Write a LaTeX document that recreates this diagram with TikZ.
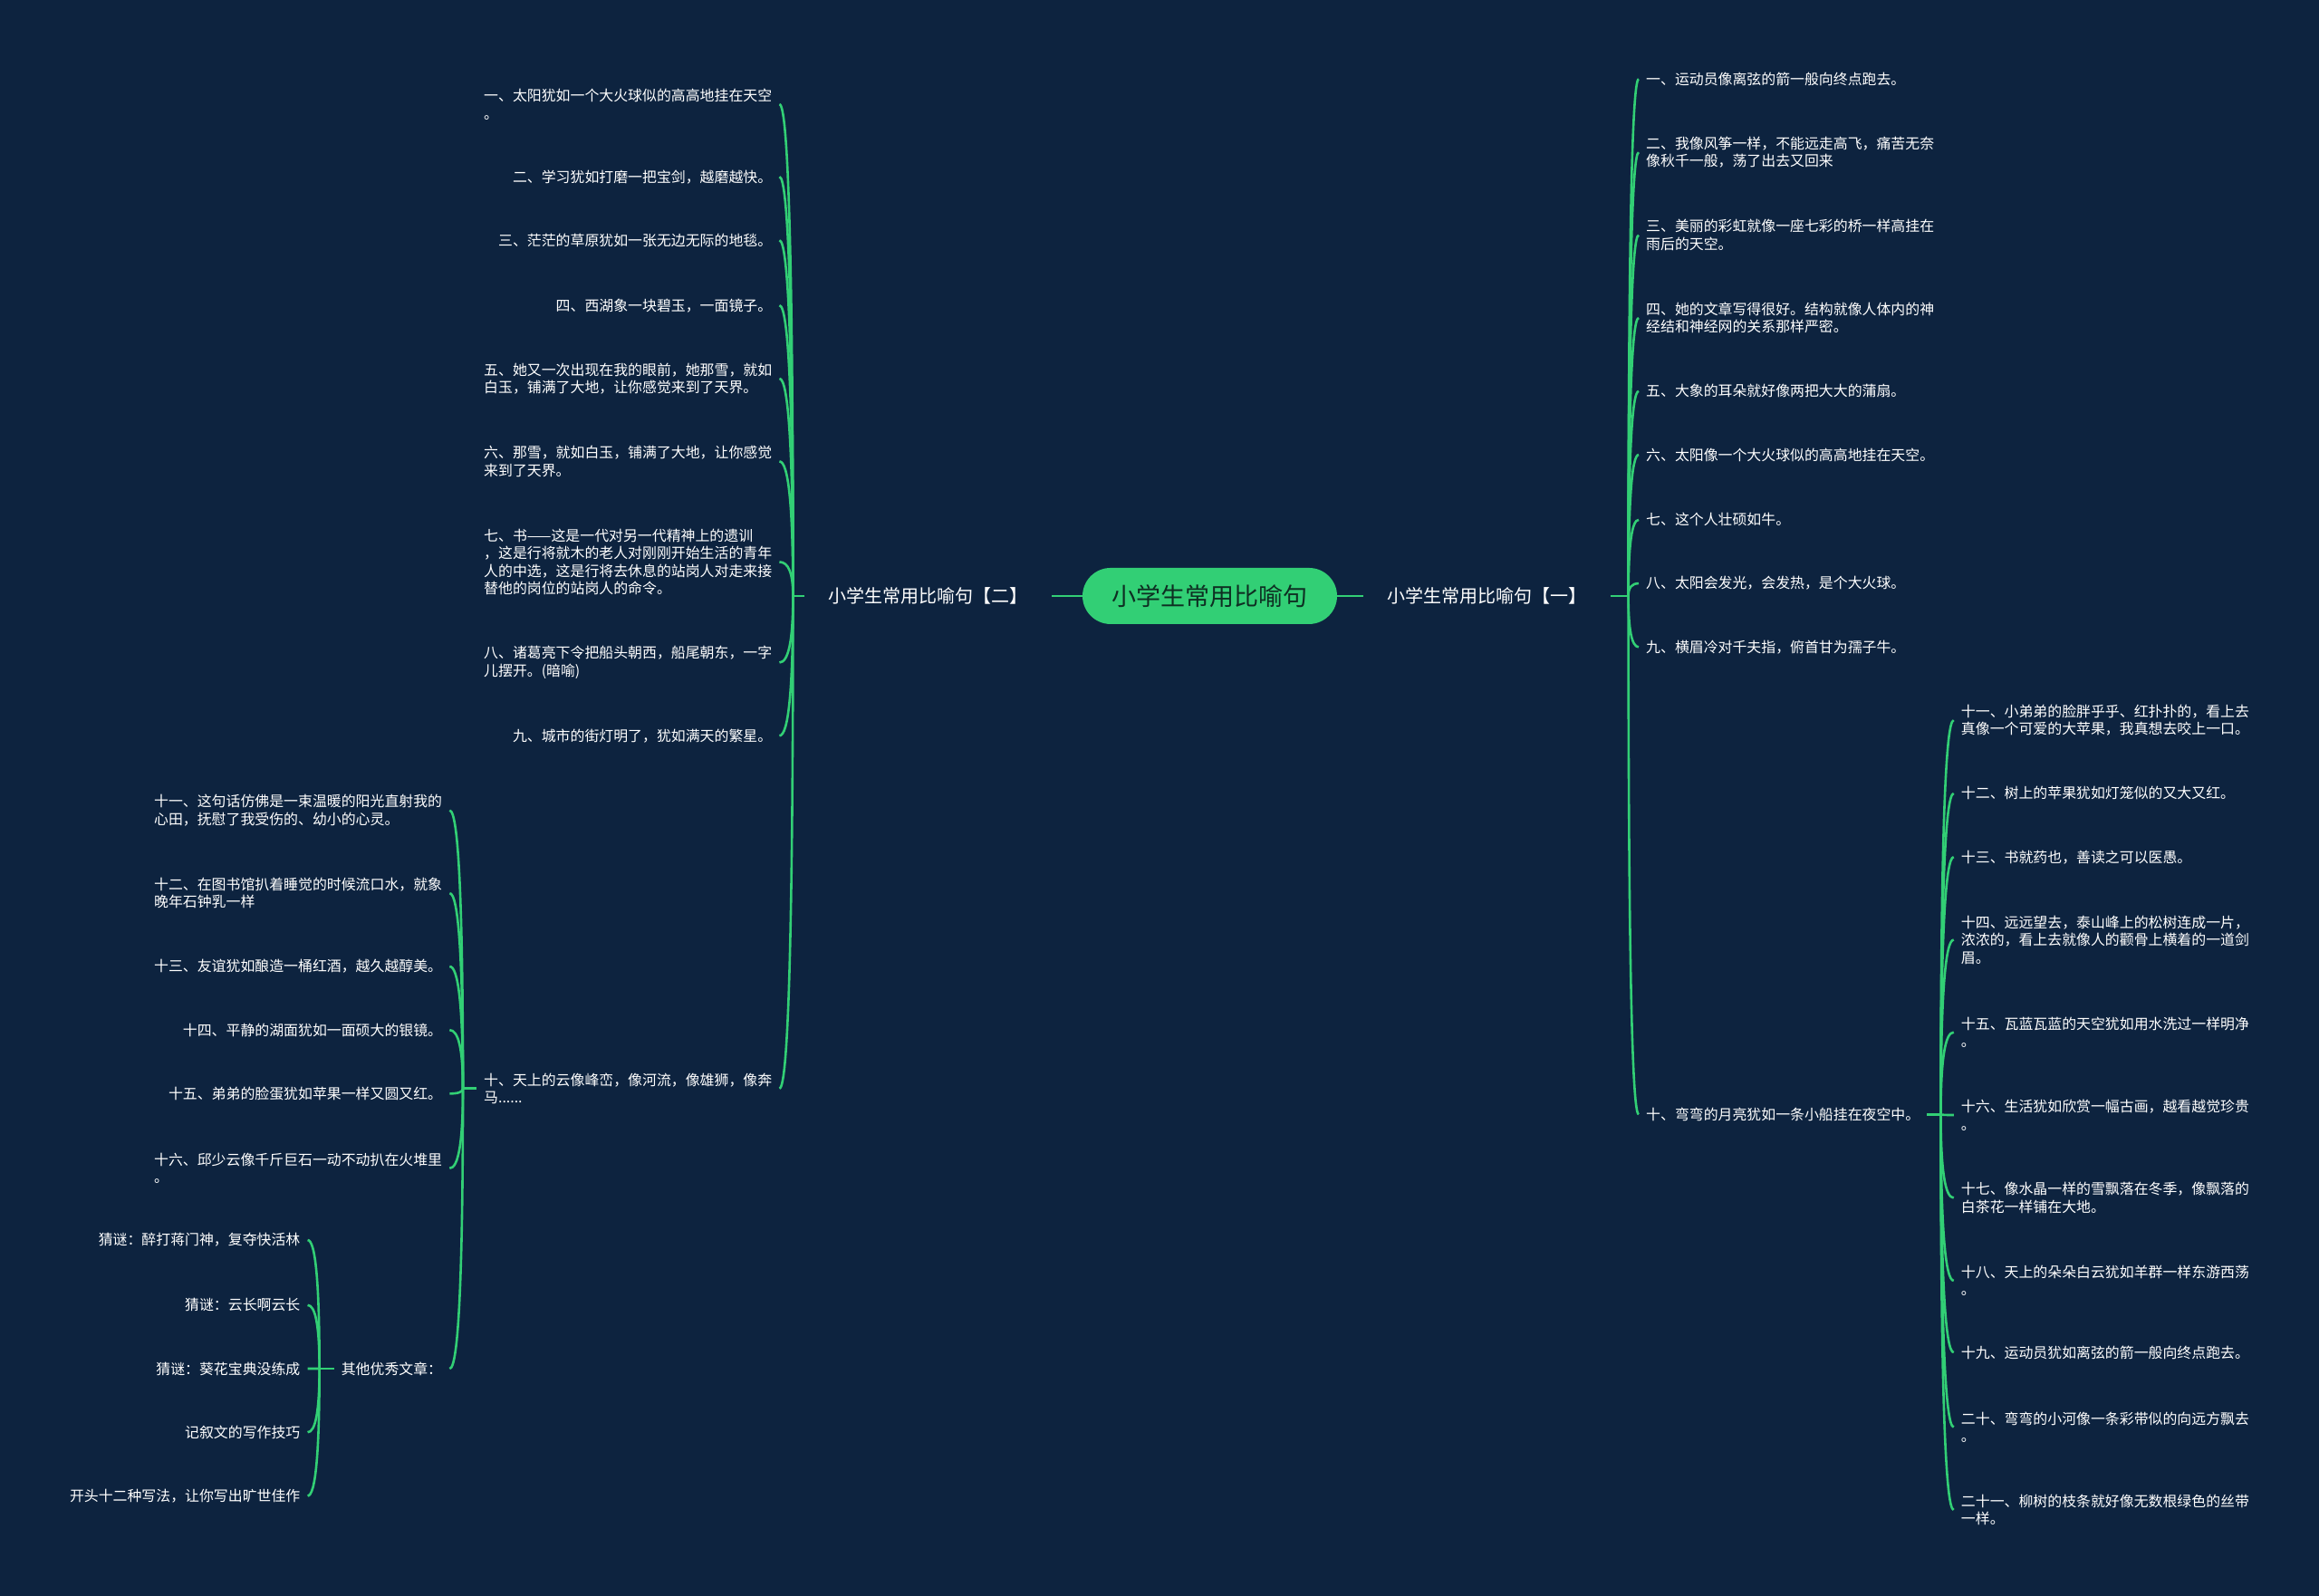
\documentclass[tikz,border=0pt]{standalone}
\usepackage{fontspec}
\newfontfamily\cjk{Noto Sans CJK SC}
\usepackage{tikz}
\usetikzlibrary{positioning}
\usetikzlibrary{calc}

\definecolor{bgnavy}{RGB}{13,35,63}
\definecolor{mapgreen}{RGB}{50,207,117}
\definecolor{titleink}{RGB}{14,46,34}

% bend from a hub on the trunk to a leaf anchor
\newcommand{\twig}[2]{\draw[link] (#1) .. controls ($(#1)!.667!(#1 |- #2)$) and ($(#2)!.667!(#1 |- #2)$) .. (#2);}

\begin{document}
\begin{tikzpicture}[x=1.6327pt, y=-1.6327pt,
    rootnode/.style={fill=mapgreen, rounded corners=31pt, minimum width=281pt, minimum height=62pt, inner sep=0pt, text=titleink, font={\cjk\fontsize{27pt}{32pt}\selectfont}},
    branch/.style={text=white, inner xsep=26pt, inner ysep=4pt, font={\cjk\fontsize{20pt}{24pt}\selectfont}},
    leaf/.style={text=white, align=left, inner xsep=8pt, inner ysep=2pt, font={\cjk\fontsize{15.9pt}{19.5pt}\selectfont}},
    leafL/.style={leaf, anchor=east},
    leafR/.style={leaf, anchor=west},
    link/.style={draw=mapgreen, line width=2.6pt}]

    \fill[bgnavy] (0,0) rectangle (1568,1079);
    \useasboundingbox (0,0) rectangle (1568,1079);

    \node[rootnode] (main) at (818,403) {小学生常用比喻句};
    \node[branch, left=34pt of main] (sec2) {小学生常用比喻句【二】};
    \node[branch, right=29pt of main] (sec1) {小学生常用比喻句【一】};

    % left branch
    \node[leafL] (l1) at (527,70.5) {一、太阳犹如一个大火球似的高高地挂在天空\\。};
    \node[leafL] (l2) at (527,119.5) {二、学习犹如打磨一把宝剑，越磨越快。};
    \node[leafL] (l3) at (527,162.5) {三、茫茫的草原犹如一张无边无际的地毯。};
    \node[leafL] (l4) at (527,206.5) {四、西湖象一块碧玉，一面镜子。};
    \node[leafL] (l5) at (527,256) {五、她又一次出现在我的眼前，她那雪，就如\\白玉，铺满了大地，让你感觉来到了天界。};
    \node[leafL] (l6) at (527,312) {六、那雪，就如白玉，铺满了大地，让你感觉\\来到了天界。};
    \node[leafL] (l7) at (527,380) {七、书——这是一代对另一代精神上的遗训\\，这是行将就木的老人对刚刚开始生活的青年\\人的中选，这是行将去休息的站岗人对走来接\\替他的岗位的站岗人的命令。};
    \node[leafL] (l8) at (527,448) {八、诸葛亮下令把船头朝西，船尾朝东，一字\\儿摆开。(暗喻)};
    \node[leafL] (l9) at (527,497.5) {九、城市的街灯明了，犹如满天的繁星。};
    \node[leafL] (l10) at (527,736) {十、天上的云像峰峦，像河流，像雄狮，像奔\\马......};

    \node[leafL] (l11) at (304,548) {十一、这句话仿佛是一束温暖的阳光直射我的\\心田，抚慰了我受伤的、幼小的心灵。};
    \node[leafL] (l12) at (304,604) {十二、在图书馆扒着睡觉的时候流口水，就象\\晚年石钟乳一样};
    \node[leafL] (l13) at (304,653.5) {十三、友谊犹如酿造一桶红酒，越久越醇美。};
    \node[leafL] (l14) at (304,696.5) {十四、平静的湖面犹如一面硕大的银镜。};
    \node[leafL] (l15) at (304,739.5) {十五、弟弟的脸蛋犹如苹果一样又圆又红。};
    \node[leafL] (l16) at (304,790) {十六、邱少云像千斤巨石一动不动扒在火堆里\\。};
    \node[leafL] (lo) at (304,925.5) {其他优秀文章：};

    \node[leafL] (g1) at (208,838.5) {猜谜：醉打蒋门神，复夺快活林};
    \node[leafL] (g2) at (208,882.5) {猜谜：云长啊云长};
    \node[leafL] (g3) at (208,925.5) {猜谜：葵花宝典没练成};
    \node[leafL] (g4) at (208,968.5) {记叙文的写作技巧};
    \node[leafL] (g5) at (208,1011.5) {开头十二种写法，让你写出旷世佳作};

    % right branch
    \node[leafR] (r1) at (1108,53.5) {一、运动员像离弦的箭一般向终点跑去。};
    \node[leafR] (r2) at (1108,103) {二、我像风筝一样，不能远走高飞，痛苦无奈\\像秋千一般，荡了出去又回来};
    \node[leafR] (r3) at (1108,159) {三、美丽的彩虹就像一座七彩的桥一样高挂在\\雨后的天空。};
    \node[leafR] (r4) at (1108,215) {四、她的文章写得很好。结构就像人体内的神\\经结和神经网的关系那样严密。};
    \node[leafR] (r5) at (1108,264.5) {五、大象的耳朵就好像两把大大的蒲扇。};
    \node[leafR] (r6) at (1108,307.5) {六、太阳像一个大火球似的高高地挂在天空。};
    \node[leafR] (r7) at (1108,351.5) {七、这个人壮硕如牛。};
    \node[leafR] (r8) at (1108,394.5) {八、太阳会发光，会发热，是个大火球。};
    \node[leafR] (r9) at (1108,437.5) {九、横眉冷对千夫指，俯首甘为孺子牛。};
    \node[leafR] (r10) at (1108,753.5) {十、弯弯的月亮犹如一条小船挂在夜空中。};

    \node[leafR] (r11) at (1321,487) {十一、小弟弟的脸胖乎乎、红扑扑的，看上去\\真像一个可爱的大苹果，我真想去咬上一口。};
    \node[leafR] (r12) at (1321,536.5) {十二、树上的苹果犹如灯笼似的又大又红。};
    \node[leafR] (r13) at (1321,579.5) {十三、书就药也，善读之可以医愚。};
    \node[leafR] (r14) at (1321,635.5) {十四、远远望去，泰山峰上的松树连成一片，\\浓浓的，看上去就像人的颧骨上横着的一道剑\\眉。};
    \node[leafR] (r15) at (1321,698) {十五、瓦蓝瓦蓝的天空犹如用水洗过一样明净\\。};
    \node[leafR] (r16) at (1321,754) {十六、生活犹如欣赏一幅古画，越看越觉珍贵\\。};
    \node[leafR] (r17) at (1321,810) {十七、像水晶一样的雪飘落在冬季，像飘落的\\白茶花一样铺在大地。};
    \node[leafR] (r18) at (1321,866) {十八、天上的朵朵白云犹如羊群一样东游西荡\\。};
    \node[leafR] (r19) at (1321,914.5) {十九、运动员犹如离弦的箭一般向终点跑去。};
    \node[leafR] (r20) at (1321,965) {二十、弯弯的小河像一条彩带似的向远方飘去\\。};
    \node[leafR] (r21) at (1321,1021) {二十一、柳树的枝条就好像无数根绿色的丝带\\一样。};

    % hubs on the trunks
    \coordinate (hubL) at ([xshift=-13pt]sec2.west);
    \coordinate (hubR) at ([xshift=20pt]sec1.east);
    \coordinate (hubL2) at ([xshift=-15pt]l10.west);
    \coordinate (hubR2) at ([xshift=15pt]r10.east);
    \coordinate (hubL3) at ([xshift=-16pt]lo.west);

    \draw[link] (main.west) -- (sec2.east);
    \draw[link] (main.east) -- (sec1.west);
    \draw[link] (sec2.west) -- (hubL);
    \draw[link] (sec1.east) -- (hubR);
    \draw[link] (l10.west) -- (hubL2);
    \draw[link] (r10.east) -- (hubR2);
    \draw[link] (lo.west) -- (hubL3);

    \foreach \i in {1,...,10} {\twig{hubL}{l\i.east}}
    \foreach \i in {11,...,16} {\twig{hubL2}{l\i.east}}
    \twig{hubL2}{lo.east}
    \foreach \i in {1,...,5} {\twig{hubL3}{g\i.east}}
    \foreach \i in {1,...,10} {\twig{hubR}{r\i.west}}
    \foreach \i in {11,...,21} {\twig{hubR2}{r\i.west}}

\end{tikzpicture}
\end{document}
